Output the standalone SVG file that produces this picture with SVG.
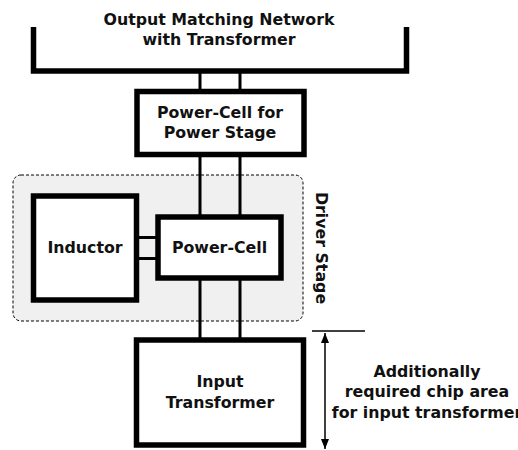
<svg xmlns="http://www.w3.org/2000/svg" width="518" height="450" viewBox="0 0 518 450">
<style>
.t{font-family:"DejaVu Sans",Verdana,sans-serif;font-weight:bold;font-size:15.8px;fill:#111;text-anchor:middle}
.box{fill:#fff;stroke:#000;stroke-width:5.5}
.w{stroke:#000;stroke-width:3;fill:none}
</style>
<defs>
<marker id="ah" viewBox="0 0 10 10" refX="10" refY="5" markerWidth="10" markerHeight="10" markerUnits="userSpaceOnUse" orient="auto-start-reverse">
<path d="M0,1 L10,5 L0,9 z" fill="#000"/>
</marker>
</defs>
<g id="driver-stage">
<rect x="13" y="175" width="290" height="146" rx="8" fill="#f0f0f0" stroke="#000" stroke-width="1" stroke-dasharray="3,2"/>
<text class="t" transform="rotate(90 316 248)" x="316" y="248">Driver Stage</text>
</g>
<g id="connectors">
<line class="w" x1="200" y1="72" x2="200" y2="90"/>
<line class="w" x1="240" y1="72" x2="240" y2="90"/>
<line class="w" x1="200" y1="156" x2="200" y2="215"/>
<line class="w" x1="240" y1="156" x2="240" y2="215"/>
<line class="w" x1="200" y1="280" x2="200" y2="338"/>
<line class="w" x1="240" y1="280" x2="240" y2="338"/>
<line class="w" x1="138" y1="237.5" x2="156" y2="237.5"/>
<line class="w" x1="138" y1="258.5" x2="156" y2="258.5"/>
</g>
<g id="output-matching">
<path d="M33.5,27 V71 H406.5 V27" fill="none" stroke="#000" stroke-width="5.5"/>
<text class="t" x="219" y="25">Output Matching Network</text>
<text class="t" x="219" y="45">with Transformer</text>
</g>
<g id="power-stage">
<rect class="box" x="137" y="91.5" width="167" height="63"/>
<text class="t" x="220" y="118">Power-Cell for</text>
<text class="t" x="220" y="138">Power Stage</text>
</g>
<g id="inductor">
<rect class="box" x="33.5" y="196" width="103" height="104"/>
<text class="t" x="85" y="253">Inductor</text>
</g>
<g id="power-cell">
<rect class="box" x="158" y="217" width="123" height="61"/>
<text class="t" x="219.5" y="253">Power-Cell</text>
</g>
<g id="input-transformer">
<rect class="box" x="136.5" y="340" width="167" height="105"/>
<text class="t" x="220" y="387">Input</text>
<text class="t" x="220" y="408">Transformer</text>
</g>
<g id="dimension">
<line x1="312" y1="331" x2="365" y2="331" stroke="#000" stroke-width="1.5"/>
<line x1="325" y1="333" x2="325" y2="449" stroke="#000" stroke-width="1.5" marker-start="url(#ah)" marker-end="url(#ah)"/>
<text class="t" x="427" y="377">Additionally</text>
<text class="t" x="427" y="397">required chip area</text>
<text class="t" x="427" y="418">for input transformer</text>
</g>
</svg>
